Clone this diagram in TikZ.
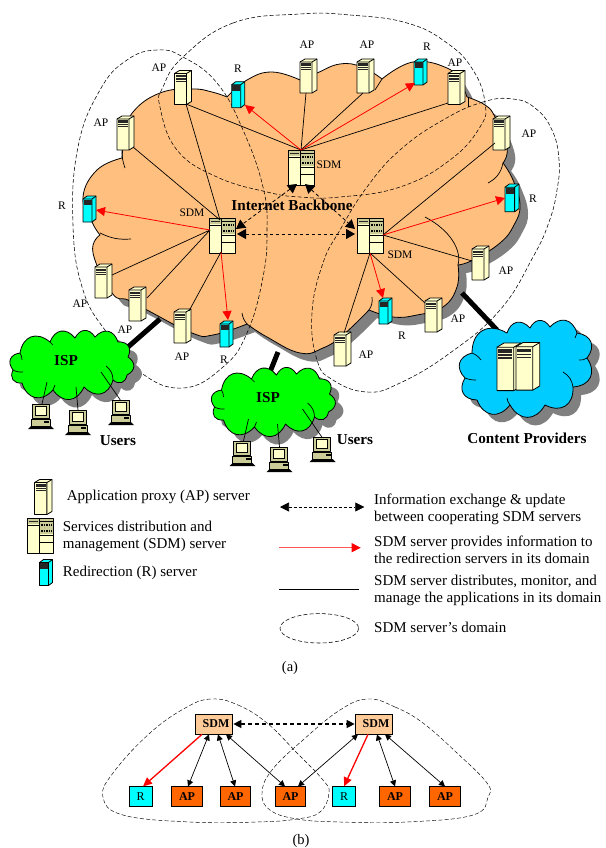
\documentclass[tikz,border=0pt]{standalone}
\usepackage{fontspec}
\setmainfont{Liberation Serif}
\usetikzlibrary{arrows.meta}
\definecolor{cloudor}{HTML}{FFBF7F}
\definecolor{cream}{HTML}{FFFFCC}
\definecolor{srvcy}{HTML}{00FFFF}
\definecolor{cpblue}{HTML}{00CCFF}
\definecolor{ispgr}{HTML}{00FF00}
\definecolor{aporange}{HTML}{FF6600}
\definecolor{sdmor}{HTML}{FFCC99}
\definecolor{pcbody}{HTML}{CCCC99}
\definecolor{shadowgr}{HTML}{808080}
\definecolor{legred}{HTML}{FF5555}
\tikzset{
  srvline/.style={draw=black,line width=0.8pt,line join=round},
  link/.style={black,line width=0.7pt},
  redlink/.style={red,line width=0.8pt,-{Triangle[length=9pt,width=9pt]}},
  dashlink/.style={black,line width=0.8pt,dash pattern=on 3.5pt off 2.5pt,
    {Triangle[length=9pt,width=10pt]}-{Triangle[length=9pt,width=10pt]}},
  domline/.style={black,line width=0.55pt,dash pattern=on 4pt off 2.2pt},
  lab/.style={font=\fontsize{11.5}{13}\selectfont,inner sep=0pt},
  boldlab/.style={font=\fontsize{15.2}{17}\selectfont\bfseries,inner sep=0pt},
  legtxt/.style={font=\fontsize{15}{17.3}\selectfont,inner sep=0pt,anchor=west,align=left},
  caplab/.style={font=\fontsize{14.5}{16}\selectfont,inner sep=0pt},
  thicklink/.style={black,line width=5pt},
  innerl/.style={black,line width=0.7pt},
  boxb/.style={draw=black,line width=0.7pt,inner sep=0pt,font=\fontsize{12}{14}\selectfont\bfseries},
  arrb/.style={black,line width=0.7pt,{Triangle[length=6pt,width=6pt]}-{Triangle[length=6pt,width=6pt]}},
  redb/.style={red,line width=1.3pt,-{Triangle[length=9pt,width=8pt]}},
  bump/.style={bend left=60,looseness=1.4},
}
\newcommand\APsrv[3]{\begin{scope}[shift={(#1,#2)},scale=#3]
  \path[srvline,fill=cream] (0,3)--(5,0)--(17,0)--(17,31)--(12,34)--(0,34)--cycle;
  \draw[srvline] (0,3)--(12,3)--(17,0) (12,3)--(12,34);
  \fill[black!85] (1,4.5) rectangle (11,7);
  \fill[black!85] (1,8) rectangle (11,9.2);
  \fill[black!85] (1,10.2) rectangle (11,11.2);
\end{scope}}
\newcommand\Rsrv[3]{\begin{scope}[shift={(#1,#2)},scale=#3]
  \path[srvline,fill=srvcy] (0,3)--(4,0)--(13,0)--(13,23)--(9,26)--(0,26)--cycle;
  \draw[srvline] (0,3)--(9,3)--(13,0) (9,3)--(9,26);
  \fill[black!85] (0.5,3.5) rectangle (8.5,9);
\end{scope}}
\newcommand\SDMsrv[3]{\begin{scope}[shift={(#1,#2)},scale=#3]
  \path[srvline,fill=cream] (0,0) rectangle (12.5,35);
  \path[srvline,fill=cream] (12.5,0) rectangle (26,35);
  \fill[pcbody] (1,1) rectangle (11.5,6);
  \fill[black!85] (2,2.5) rectangle (10.5,4);
  \draw[black,line width=0.6pt] (0,7)--(12.5,7);
  \fill[pcbody] (13,1) rectangle (25.5,16);
  \draw[black,line width=0.8pt] (12.5,3)--(26,3) (12.5,17)--(26,17) (12.5,24)--(26,24);
  \draw[black,line width=1.4pt,dash pattern=on 1.5pt off 1pt] (14,7)--(25,7) (14,13)--(25,13);
\end{scope}}
\newcommand\PCico[2]{\begin{scope}[shift={(#1,#2)}]
  \path[srvline,line width=0.6pt,fill=pcbody] (4,0) rectangle (21,14);
  \path[draw=black,line width=0.5pt,fill=cream] (7,2.5) rectangle (18,11);
  \path[srvline,line width=0.6pt,fill=pcbody] (3,15) rectangle (22,22);
  \fill[black] (16,17) rectangle (21,18.5);
  \fill[black] (3,22)--(23,22)--(26,25)--(0,25)--cycle;
\end{scope}}
% outlines
\newcommand\mainoutline[1]{\path[#1]
  plot[smooth,tension=.75] coordinates {(122,158)(125,135)(133,112)(160,93)(192,89)(212,92)(227,97)}
  -- plot[smooth,tension=.75] coordinates {(227,97)(247,80)(272,72)(300,80)}
  -- plot[smooth,tension=.75] coordinates {(300,80)(317,73)(340,64)(362,67)(382,79)}
  -- plot[smooth,tension=.75] coordinates {(382,79)(413,62)(447,68)(460,82)(467,97)}
  -- plot[smooth,tension=.75] coordinates {(467,97)(485,105)(495,117)(507,147)(503,163)}
  -- plot[smooth,tension=.75] coordinates {(503,163)(513,180)(520,205)(514,225)(500,243)(473,260)(458,265)}
  -- plot[smooth,tension=.75] coordinates {(458,265)(457,287)(443,307)(417,315)(393,317)(369,310)}
  -- plot[smooth,tension=.75] coordinates {(369,310)(343,335)(323,348)(300,353)(267,337)(247,324)}
  -- plot[smooth,tension=.75] coordinates {(247,324)(213,335)(192,333)(147,310)(128,300)(112,293)(93,253)(100,235)}
  -- plot[smooth,tension=.75] coordinates {(100,235)(92,222)(83,197)(97,170)(122,158)}
  -- cycle;}
\newcommand\ispoutline[1]{\path[#1]
  (20,353) to[bump] (50,342) to[bump] (75,338) to[bump] (95,337) to[bump] (118,342)
  to[bump] (128,357) to[bump] (127,375) to[bump] (113,380) to[bump] (84,387)
  to[bump] (53,390) to[bump] (22,383) to[bump] (13,370) to[bump] (20,353) -- cycle;}
\newcommand\ispinner{
  \draw[innerl] (13,370) to[bend right=15] (23,372);
  \draw[innerl] (20,353) to[bend left=15] (22,360);
  \draw[innerl] (106,366) to[bend left=25] (113,380);
  \draw[innerl] (50,342) to[bend right=20] (53,345);
  \draw[innerl] (53,390) to[bend right=10] (55,385);
}
\newcommand\cpoutline[1]{\path[#1]
  (472,353) to[bump] (507,333) to[bump] (530,328) to[bump] (550,327) to[bump] (577,333)
  to[bump] (587,358) to[bump] (573,387) to[bump] (545,405) to[bump] (510,405)
  to[bump] (477,400) to[bump] (465,378) to[bump] (472,353) -- cycle;}
\begin{document}
\begin{tikzpicture}[x=1pt,y=-1pt]
\useasboundingbox (0,0) rectangle (605,848);
\fill[white] (0,0) rectangle (605,848);

% main cloud
\mainoutline{fill=shadowgr,shift={(8,8)}}
\mainoutline{fill=cloudor,draw=black,line width=0.8pt,line join=round}
\draw[innerl] (122,150) to[bend right=10] (125,168);
\draw[innerl] (100,233) to[bend right=15] (131,239);
\draw[innerl] (242,313) to[bend right=15] (247,324);
\draw[innerl] (372,297) to[bend left=20] (369,310);
\draw[innerl] (468,97)--(468,107);
\draw[innerl] (503,163) to[bend left=25] (488,183);
\draw[innerl] (425,217) .. controls (450,230) and (462,250) .. (458,265);
\draw[innerl] (382,79)--(375,90);

% domains
\draw[domline] plot[smooth cycle,tension=.75] coordinates {(157,50)(183,57)(217,83)(243,130)(263,187)(267,230)(263,277)(247,333)(223,367)(183,388)(140,372)(107,333)(83,290)(73,225)(78,147)(100,90)(127,60)};
\draw[domline] plot[smooth cycle,tension=.75] coordinates {(300,14)(233,23)(183,57)(163,87)(160,107)(177,150)(217,177)(267,192)(300,197)(340,197)(400,187)(450,160)(480,127)(485,103)(473,70)(447,43)(407,23)(350,15)};
\draw[domline] plot[smooth cycle,tension=.75] coordinates {(513,99)(483,102)(443,120)(400,150)(367,187)(340,230)(323,263)(312,313)(317,360)(333,380)(367,392)(400,383)(450,353)(500,310)(533,257)(549,222)(557,190)(559,160)(552,130)(535,108)};

% thick links
\coordinate (mA) at (160,319);
\coordinate (iA) at (128,347);
\coordinate (mB) at (278,352);
\coordinate (iB) at (270,372);
\coordinate (mC) at (462,293);
\coordinate (iC) at (497,330);
\draw[thicklink] (mA)--(iA);
\draw[thicklink] (mB)--(iB);
\draw[thicklink] (mC)--(iC);

% ISP 1
\ispoutline{fill=shadowgr,shift={(8,8)}}
\ispoutline{fill=ispgr,draw=black,line width=0.8pt,line join=round}
\ispinner
% ISP 2
\ispoutline{fill=shadowgr,shift={(209.5,45)}}
\ispoutline{fill=ispgr,draw=black,line width=0.8pt,line join=round,shift={(201.5,37)}}
\begin{scope}[shift={(201.5,37)}]\ispinner\end{scope}
% Content cloud
\cpoutline{fill=shadowgr,shift={(8,8)}}
\cpoutline{fill=cpblue,draw=black,line width=0.8pt,line join=round}
\draw[innerl] (573,387) to[bend right=25] (563,372);
\draw[innerl] (472,353) to[bend left=15] (481,360);
\draw[innerl] (465,378) to[bend right=10] (476,380);
\draw[innerl] (587,358) to[bend left=20] (579,360);
\draw[innerl] (510,405) to[bend left=15] (507,398);
\draw[innerl] (577,333) to[bend left=15] (575,338);
\APsrv{497}{343}{1.4}
\APsrv{516}{342.5}{1.4}

% PCs
\coordinate (u1a) at (47,382); \coordinate (p1a) at (42,404);
\coordinate (u1b) at (76,387); \coordinate (p1b) at (78,410);
\coordinate (u1c) at (101,372); \coordinate (p1c) at (121,401);
\draw[innerl] (u1a)--(p1a) (u1b)--(p1b) (u1c)--(p1c);
\PCico{28}{404}\PCico{65}{410}\PCico{108}{400}
\begin{scope}[shift={(201.5,37)}]
\coordinate (u2a) at (47,382); \coordinate (p2a) at (42,404);
\coordinate (u2b) at (76,387); \coordinate (p2b) at (78,410);
\coordinate (u2c) at (101,372); \coordinate (p2c) at (121,401);
\draw[innerl] (u2a)--(p2a) (u2b)--(p2b) (u2c)--(p2c);
\PCico{28}{404}\PCico{65}{410}\PCico{108}{400}
\end{scope}

% Servers
\APsrv{174.5}{70.5}{1}
\APsrv{117}{116}{1}
\APsrv{300}{59}{1}
\APsrv{357}{59}{1}
\APsrv{448}{70.5}{1}
\APsrv{493}{116}{1}
\APsrv{95}{264}{1}
\APsrv{129}{287}{1}
\APsrv{174}{309}{1}
\APsrv{472}{246}{1}
\APsrv{425}{298}{1}
\APsrv{334}{332}{1}
\Rsrv{231.7}{81.7}{1}
\Rsrv{83}{196}{1}
\Rsrv{414}{59}{1}
\Rsrv{505}{184}{1.07}
\Rsrv{220}{321}{1}
\Rsrv{379}{298}{1}
\SDMsrv{288}{150}{1}
\SDMsrv{209}{218}{1}
\SDMsrv{357}{218}{1}

% named end points
\coordinate (st) at (301,150);
\coordinate (sl) at (210,230);
\coordinate (slt) at (220,220);
\coordinate (slb) at (221,252);
\coordinate (sr) at (383,235);
\coordinate (srb) at (370,253);
\coordinate (a1) at (186,104);
\coordinate (a2) at (133,147);
\coordinate (a3) at (306,93);
\coordinate (a4) at (363,93);
\coordinate (a5) at (448,103);
\coordinate (a6) at (495,143);
\coordinate (a7) at (112,275);
\coordinate (a8) at (147,298);
\coordinate (a9) at (189,311);
\coordinate (a10) at (472,261);
\coordinate (a11) at (425,303);
\coordinate (a12) at (344,333);
\coordinate (r1) at (245,105);
\coordinate (r2) at (415,83);
\coordinate (r3) at (96,210);
\coordinate (r4) at (228,320);
\coordinate (r5) at (505,198);
\coordinate (r6) at (383,298);

\draw[link] (st)--(a1) (st)--(a3) (st)--(a4) (st)--(a5);
\draw[link] (slt)--(a1) (slt)--(a2) (sl)--(a7) (sl)--(a8) (slb)--(a9);
\draw[link] (sr)--(a6) (sr)--(a10) (srb)--(a11) (srb)--(a12);
\draw[redlink] (st)--(r1);
\draw[redlink] (st)--(r2);
\draw[redlink] (sl)--(r3);
\draw[redlink] (slb)--(r4);
\draw[redlink] (sr)--(r5);
\draw[redlink] (srb)--(r6);

\coordinate (dta) at (297,184);
\coordinate (dtb) at (305,184);
\coordinate (dla) at (236,229);
\coordinate (dlb) at (237,234);
\coordinate (dra) at (355,229);
\coordinate (drb) at (355,234);
\draw[dashlink] (dta)--(dla);
\draw[dashlink] (dtb)--(dra);
\draw[dashlink] (dlb)--(drb);

% labels
\node[boldlab] (ib) at (292,205) {Internet Backbone};
\node[lab] (l1) at (159,68) {AP};
\node[lab] (l2) at (101,123) {AP};
\node[lab] (l3) at (238,69) {R};
\node[lab] (l4) at (307,45) {AP};
\node[lab] (l5) at (367,45) {AP};
\node[lab] (l6) at (427,47) {R};
\node[lab] (l7) at (455,63) {AP};
\node[lab] (l8) at (529,134) {AP};
\node[lab] (l9) at (533,199) {R};
\node[lab] (l10) at (329,165) {SDM};
\node[lab] (l11) at (192,213) {SDM};
\node[lab] (l12) at (400,255) {SDM};
\node[lab] (l13) at (62,206) {R};
\node[lab] (l14) at (80,304) {AP};
\node[lab] (l15) at (125,330) {AP};
\node[lab] (l16) at (182,357) {AP};
\node[lab] (l17) at (224,360) {R};
\node[lab] (l18) at (402,336) {R};
\node[lab] (l19) at (458,319) {AP};
\node[lab] (l20) at (506,271) {AP};
\node[lab] (l21) at (366,355) {AP};
\node[boldlab] (isp1) at (66,361) {ISP};
\node[boldlab] (isp2) at (268,398) {ISP};
\node[boldlab] (us1) at (118,441) {Users};
\node[boldlab] (us2) at (355,440) {Users};
\node[boldlab] (cp) at (527,438) {Content Providers};

% legend
\APsrv{34.5}{479.5}{1.03}
\SDMsrv{27}{518}{1}
\Rsrv{39.5}{559.5}{1}
\node[legtxt] (t1) at (66.7,497.3) {Application proxy (AP) server};
\node[legtxt] (t2) at (62.7,536.5) {Services distribution and\\management (SDM) server};
\node[legtxt] (t3) at (62.7,573) {Redirection (R) server};
\node[legtxt] (t4) at (374,509.2) {Information exchange \& update\\between cooperating SDM servers};
\node[legtxt] (t5) at (374,549.5) {SDM server provides information to\\the redirection servers in its domain};
\node[legtxt] (t6) at (374,590.5) {SDM server distributes, monitor, and\\manage the applications in its domain};
\node[legtxt] (t7) at (374,627.7) {SDM server’s domain};
\coordinate (k1a) at (280,507);
\coordinate (k1b) at (364.3,507);
\coordinate (k2a) at (279,547.7);
\coordinate (k2b) at (360.7,547.7);
\coordinate (k3a) at (279,589);
\coordinate (k3b) at (358.7,589);
\draw[black,line width=0.7pt,dash pattern=on 3pt off 2pt,{Triangle[length=9pt,width=9pt]}-{Triangle[length=9pt,width=9pt]}] (k1a)--(k1b);
\draw[legred,line width=1.2pt,-{Triangle[length=9pt,width=9pt,fill=red,color=red]}] (k2a)--(k2b);
\draw[black,line width=0.7pt] (k3a)--(k3b);
\draw[domline] (319.3,628.3) ellipse [x radius=39.3,y radius=14.7];
\node[caplab] (capa) at (290,668.3) {(a)};

% panel b
\draw[domline,line width=0.45pt] plot[smooth cycle,tension=.7] coordinates {(212,699)(238,705)(267,723)(297,753)(323,780)(329,793)(320,812)(297,819)(257,822)(190,822)(123,815)(103,797)(113,773)(150,733)(187,707)};
\draw[domline,line width=0.45pt] plot[smooth cycle,tension=.7] coordinates {(368,699)(395,707)(423,723)(457,753)(487,783)(488,797)(473,815)(407,822)(340,822)(297,819)(270,810)(262,793)(272,770)(303,740)(340,710)};
\tikzset{sdmbox/.style={boxb,fill=sdmor,minimum width=37pt,minimum height=20pt},
 apbox/.style={boxb,fill=aporange,minimum width=30.5pt,minimum height=19.5pt},
 rbox/.style={boxb,font=\fontsize{12}{14}\selectfont,fill=srvcy,minimum width=23pt,minimum height=19.5pt}}
\node[sdmbox] (b1) at (213.5,724) {\hspace{5pt}SDM};
\node[sdmbox] (b2) at (373.5,724) {\hspace{5pt}SDM};
\node[rbox] (br1) at (140.5,796.5) {R};
\node[apbox] (ba1) at (187,796.5) {AP};
\node[apbox] (ba2) at (235.5,796.5) {AP};
\node[apbox] (ba3) at (290.5,796.5) {AP};
\node[rbox] (br2) at (344,796.5) {R};
\node[apbox] (ba4) at (395,796.5) {AP};
\node[apbox] (ba5) at (445,796.5) {AP};
\draw[redb] ([xshift=-11.5pt]b1.south)--([xshift=2.5pt]br1.north);
\draw[arrb] ([xshift=-4.5pt]b1.south)--([xshift=1pt]ba1.north);
\draw[arrb] ([xshift=4.5pt]b1.south)--([xshift=-.5pt]ba2.north);
\draw[arrb] ([xshift=12.5pt]b1.south)--([xshift=-5.5pt]ba3.north);
\draw[arrb] ([xshift=-15.5pt]b2.south)--([xshift=7.5pt]ba3.north);
\draw[redb] ([xshift=-5.5pt]b2.south)--(br2.north);
\draw[arrb] ([xshift=3.5pt]b2.south)--(ba4.north);
\draw[arrb] ([xshift=11.5pt]b2.south)--(ba5.north);
\draw[black,line width=1.3pt,dash pattern=on 4pt off 3pt,{Triangle[length=8pt,width=8pt]}-{Triangle[length=8pt,width=8pt]}] ([xshift=1pt]b1.east)--(b2.west);
\node[caplab] (capb) at (301,841) {(b)};
\end{tikzpicture}
\end{document}
